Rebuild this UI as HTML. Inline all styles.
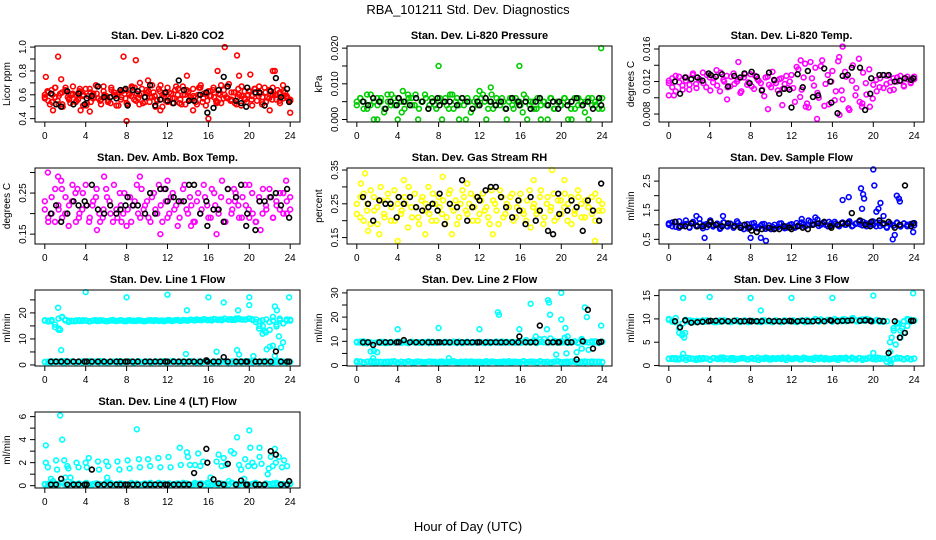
<!DOCTYPE html>
<html><head><meta charset="utf-8"><style>
html,body{margin:0;padding:0;background:#fff}
svg{display:block;font-family:"Liberation Sans",Arial,sans-serif}
</style></head><body>
<svg id="chart" width="936" height="540" viewBox="0 0 936 540" xmlns="http://www.w3.org/2000/svg">
<rect width="936" height="540" fill="#fff"/>
<text x="468" y="14" text-anchor="middle" font-size="13">RBA_101211  Std. Dev. Diagnostics</text>
<text x="468" y="531" text-anchor="middle" font-size="13">Hour of Day (UTC)</text>
</svg>
<script>
const blackHours=[0.6,1.1,1.6,2.2,2.8,3.3,3.9,4.1,4.6,5.2,5.8,6.4,7.0,7.4,7.9,8.1,8.6,9.1,9.8,10.3,10.8,11.3,11.8,12.0,12.6,13.1,13.6,14.1,14.6,15.2,15.8,15.9,16.5,17.0,17.5,17.9,18.7,19.2,19.7,19.8,20.6,21.0,21.5,22.1,22.6,23.1,23.7,23.9];
const xTicks=[0,4,8,12,16,20,24];

const co2Main=[0.57,0.63,0.52,0.60,0.66,0.55,0.61,0.50,0.64,0.58,0.53,0.67,0.60,0.56,0.62,0.51,0.65,0.59,0.54,0.61,0.68,0.57,0.52,0.63,0.59,0.55,0.66,0.60,0.51,0.62,0.58,0.64,0.53,0.60,0.67,0.56,0.61,0.52,0.65,0.58,0.62,0.54,0.68,0.59,0.55,0.63,0.50,0.61,0.66,0.57,0.53,0.64,0.60,0.56,0.67,0.52,0.62,0.58,0.65,0.54,0.60,0.68,0.57,0.51,0.63,0.59,0.66,0.55,0.61,0.53,0.64,0.58,0.69,0.56,0.62,0.52,0.60,0.67,0.57,0.54,0.63,0.59,0.65,0.55,0.61,0.52,0.66,0.58,0.63,0.56,0.60,0.64,0.53,0.59,0.62,0.57,0.55];
const co2B=[0.60,0.55,0.64,0.58,0.52,0.62,0.66,0.56,0.60,0.54,0.63,0.59,0.51,0.65,0.57,0.61,0.55,0.67,0.58,0.53,0.62,0.60,0.56,0.64,0.52,0.59,0.66,0.57,0.61,0.54,0.63,0.58,0.50,0.65,0.60,0.55,0.62,0.57,0.67,0.53,0.60,0.64,0.56,0.59,0.52,0.66,0.61,0.55,0.63,0.58,0.54,0.68,0.60,0.57,0.62,0.53,0.65,0.59,0.56,0.63,0.51,0.61,0.67,0.58,0.54,0.64,0.60,0.56,0.62,0.57,0.59,0.55];
const co2C=[0.58,0.62,0.54,0.66,0.59,0.52,0.63,0.57,0.61,0.55,0.65,0.60,0.53,0.62,0.58,0.67,0.56,0.60,0.54,0.64,0.59,0.51,0.63,0.57,0.61,0.66,0.55,0.60,0.53,0.64,0.58,0.62,0.56,0.68,0.59,0.54,0.61,0.57,0.65,0.52,0.60,0.63,0.56,0.58,0.66,0.54,0.61,0.59,0.64,0.53,0.60,0.57,0.67,0.55,0.62,0.58,0.51,0.63,0.60,0.56,0.65,0.59,0.54,0.62,0.57,0.66,0.60,0.55,0.63,0.58,0.56];
const co2OutX=[0.1,1.3,1.6,0.8,4.4,7.7,8.9,8.0,13.9,16.0,16.9,17.6,18.8,19.0,20.1,22.3,22.5,23.3,24.0,11.3,14.5,9.3,10.1,3.5,22.0];
const co2OutY=[0.75,0.92,0.73,0.47,0.46,0.92,0.89,0.38,0.76,0.40,0.80,1.00,0.93,0.76,0.77,0.80,0.80,0.68,0.45,0.47,0.47,0.70,0.72,0.47,0.47];
const co2Black=[0.61,0.52,0.50,0.63,0.52,0.61,0.52,0.57,0.59,0.67,0.58,0.58,0.57,0.64,0.65,0.51,0.64,0.63,0.58,0.68,0.51,0.56,0.62,0.55,0.53,0.72,0.64,0.55,0.55,0.60,0.62,0.45,0.49,0.64,0.75,0.67,0.55,0.53,0.50,0.66,0.62,0.62,0.51,0.63,0.74,0.58,0.65,0.54];

const presMain=[0.005,0.006,0.003,0.007,0.004,0.000,0.006,0.005,0.002,0.007,0.004,0.006,0.000,0.005,0.003,0.007,0.006,0.004,0.000,0.005,0.007,0.003,0.006,0.004,0.005,0.000,0.006,0.003,0.007,0.005,0.004,0.006,0.000,0.005,0.003,0.006,0.004,0.007,0.000,0.005,0.003,0.006,0.004,0.005,0.000,0.006,0.003,0.005,0.004,0.007,0.000,0.005,0.003,0.006,0.004,0.005,0.000,0.006,0.003,0.005,0.004,0.006,0.000,0.005,0.003,0.006,0.004,0.005,0.000,0.006,0.004,0.005,0.003];
const presB=[0.004,0.006,0.005,0.003,0.007,0.005,0.004,0.006,0.003,0.005,0.007,0.004,0.006,0.002,0.005,0.006,0.004,0.007,0.003,0.005,0.006,0.004,0.005,0.003,0.006,0.005,0.004,0.007,0.003,0.006,0.005,0.004,0.006,0.002,0.005,0.004,0.006,0.005,0.003,0.007,0.004,0.005,0.006,0.003,0.005,0.004,0.006,0.005,0.002,0.006,0.004,0.005,0.003,0.006,0.005,0.004,0.006,0.003,0.005,0.004,0.006,0.005,0.003,0.006,0.004,0.005,0.002,0.006,0.004,0.005,0.003,0.006];
const presOutX=[8.0,15.9,23.9,12.0,13.1,4.5,2.0,10.0,18.0,21.0];
const presOutY=[0.015,0.015,0.020,0.008,0.009,0.008,0.000,0.000,0.000,0.000];
const presBlack=[0.005,0.004,0.006,0.005,0.003,0.005,0.004,0.006,0.005,0.004,0.006,0.005,0.003,0.005,0.006,0.004,0.005,0.005,0.004,0.006,0.005,0.003,0.005,0.004,0.006,0.005,0.004,0.005,0.003,0.006,0.005,0.004,0.005,0.003,0.005,0.006,0.004,0.005,0.003,0.005,0.004,0.005,0.006,0.004,0.005,0.003,0.006,0.004];

const tempMain=[0.0118,0.0124,0.0108,0.0126,0.0115,0.0121,0.0110,0.0128,0.0117,0.0123,0.0131,0.0113,0.0125,0.0119,0.0134,0.0108,0.0122,0.0127,0.0114,0.0130,0.0120,0.0106,0.0125,0.0116,0.0129,0.0111,0.0123,0.0118,0.0102,0.0126,0.0113,0.0121,0.0109,0.0124,0.0117,0.0112,0.0128,0.0095,0.0135,0.0110,0.0142,0.0088,0.0124,0.0137,0.0100,0.0146,0.0117,0.0092,0.0133,0.0108,0.0150,0.0098,0.0126,0.0085,0.0140,0.0112,0.0095,0.0131,0.0104,0.0089,0.0116,0.0108,0.0124,0.0112,0.0127,0.0119,0.0110,0.0125,0.0121,0.0114,0.0126,0.0118,0.0123];
const tempB=[0.0121,0.0113,0.0127,0.0119,0.0110,0.0125,0.0116,0.0130,0.0112,0.0122,0.0118,0.0128,0.0109,0.0124,0.0115,0.0131,0.0120,0.0113,0.0126,0.0117,0.0123,0.0108,0.0129,0.0119,0.0114,0.0127,0.0121,0.0110,0.0125,0.0116,0.0132,0.0118,0.0123,0.0111,0.0127,0.0120,0.0112,0.0138,0.0101,0.0125,0.0093,0.0144,0.0115,0.0106,0.0139,0.0090,0.0128,0.0120,0.0097,0.0145,0.0109,0.0132,0.0087,0.0121,0.0103,0.0148,0.0093,0.0118,0.0135,0.0099,0.0122,0.0113,0.0128,0.0117,0.0109,0.0124,0.0120,0.0127,0.0115,0.0123,0.0119,0.0126];
const tempOutX=[0.0,0.5,6.8,12.9,17.0,14.5,16.7,5.7,9.7,11.1,13.4,18.9];
const tempOutY=[0.0103,0.0103,0.0144,0.0146,0.0163,0.0074,0.0079,0.0098,0.0086,0.0091,0.0089,0.0089];
const tempBlack=[0.0120,0.0105,0.0125,0.0123,0.0125,0.0121,0.0130,0.0128,0.0126,0.0129,0.0114,0.0127,0.0125,0.0130,0.0118,0.0132,0.0126,0.0109,0.0131,0.0122,0.0105,0.0111,0.0110,0.0088,0.0129,0.0113,0.0133,0.0101,0.0103,0.0136,0.0120,0.0094,0.0081,0.0127,0.0128,0.0137,0.0137,0.0085,0.0105,0.0124,0.0128,0.0128,0.0128,0.0120,0.0121,0.0124,0.0122,0.0124];

const ambMain=[0.21,0.19,0.24,0.18,0.22,0.26,0.20,0.17,0.23,0.25,0.19,0.21,0.27,0.18,0.22,0.24,0.20,0.19,0.26,0.23,0.18,0.21,0.25,0.20,0.17,0.24,0.22,0.27,0.19,0.21,0.23,0.18,0.25,0.20,0.22,0.26,0.19,0.24,0.21,0.17,0.23,0.27,0.20,0.22,0.18,0.25,0.21,0.24,0.19,0.26,0.22,0.20,0.28,0.18,0.23,0.21,0.25,0.19,0.24,0.22,0.27,0.20,0.18,0.23,0.26,0.21,0.24,0.19,0.22,0.25,0.20,0.23,0.21];
const ambB=[0.23,0.18,0.20,0.26,0.21,0.19,0.24,0.22,0.27,0.18,0.20,0.25,0.22,0.19,0.23,0.26,0.18,0.21,0.24,0.20,0.27,0.19,0.22,0.25,0.21,0.18,0.23,0.20,0.26,0.22,0.19,0.24,0.21,0.27,0.18,0.23,0.20,0.25,0.22,0.19,0.26,0.21,0.24,0.18,0.23,0.20,0.27,0.22,0.19,0.25,0.21,0.24,0.18,0.26,0.20,0.23,0.22,0.19,0.27,0.21,0.25,0.18,0.24,0.20,0.22,0.26,0.19,0.23,0.21,0.25,0.20,0.24];
const ambOutX=[0.3,1.3,5.8,9.3,12.0,11.3,16.8,5.1,21.1,14.3,1.6,23.6,3.2,7.5,18.5,20.0];
const ambOutY=[0.30,0.29,0.29,0.29,0.28,0.15,0.15,0.16,0.16,0.17,0.28,0.28,0.26,0.18,0.26,0.19];
const ambBlack=[0.20,0.22,0.18,0.20,0.23,0.22,0.23,0.22,0.27,0.21,0.20,0.22,0.20,0.21,0.22,0.24,0.22,0.22,0.20,0.25,0.20,0.26,0.26,0.23,0.24,0.23,0.23,0.27,0.27,0.20,0.23,0.17,0.21,0.21,0.18,0.26,0.24,0.27,0.17,0.20,0.16,0.23,0.23,0.24,0.25,0.22,0.26,0.19];

const rhMain=[0.25,0.21,0.28,0.23,0.19,0.27,0.24,0.30,0.22,0.26,0.20,0.29,0.25,0.22,0.27,0.18,0.24,0.28,0.21,0.26,0.23,0.30,0.20,0.25,0.27,0.22,0.19,0.28,0.24,0.26,0.21,0.29,0.23,0.25,0.20,0.27,0.22,0.28,0.24,0.19,0.26,0.23,0.29,0.21,0.25,0.27,0.20,0.24,0.28,0.22,0.26,0.18,0.25,0.23,0.29,0.21,0.27,0.24,0.20,0.26,0.22,0.28,0.25,0.19,0.23,0.27,0.21,0.26,0.24,0.22,0.28,0.23,0.25];
const rhB=[0.22,0.27,0.20,0.25,0.29,0.23,0.19,0.26,0.21,0.28,0.24,0.20,0.27,0.23,0.25,0.30,0.21,0.24,0.19,0.27,0.25,0.22,0.28,0.20,0.24,0.26,0.21,0.29,0.23,0.19,0.25,0.27,0.22,0.28,0.24,0.20,0.26,0.23,0.21,0.29,0.25,0.19,0.27,0.22,0.24,0.28,0.21,0.26,0.23,0.20,0.29,0.24,0.22,0.27,0.19,0.25,0.23,0.28,0.21,0.26,0.24,0.20,0.27,0.22,0.29,0.25,0.21,0.24,0.27,0.20,0.26,0.23];
const rhOutX=[0.4,0.8,4.0,2.2,4.6,8.4,10.8,13.3,17.3,19.1,20.3,23.3,6.7,9.3,1.1];
const rhOutY=[0.31,0.34,0.14,0.16,0.32,0.33,0.31,0.16,0.32,0.35,0.32,0.14,0.16,0.16,0.17];
const rhBlack=[0.27,0.25,0.20,0.26,0.25,0.25,0.21,0.27,0.25,0.27,0.24,0.23,0.24,0.25,0.23,0.28,0.19,0.25,0.24,0.32,0.20,0.24,0.27,0.26,0.29,0.30,0.30,0.27,0.24,0.21,0.26,0.23,0.19,0.27,0.20,0.23,0.17,0.16,0.28,0.22,0.23,0.26,0.24,0.17,0.26,0.23,0.20,0.31];

const flowMain=[1.05,0.95,1.10,0.90,1.00,1.15,0.92,1.05,0.98,1.20,0.88,1.02,1.10,0.94,1.00,0.86,1.08,0.96,1.04,0.90,1.12,0.98,0.85,1.02,0.93,1.06,0.88,0.97,1.03,0.90,0.85,1.00,0.92,1.05,0.88,0.96,1.02,0.90,0.98,1.08,0.94,1.15,1.00,1.25,0.96,1.05,1.00,1.10,0.98,1.04,0.95,1.08,1.00,1.12,0.97,1.05,1.02,1.10,0.95,1.06,1.00,1.08,0.96,1.04,0.90,1.02,0.98,1.06,0.94,1.05,1.00,1.03,0.98];
const flowB=[1.00,1.08,0.93,1.12,0.97,1.03,0.90,1.10,0.95,1.05,1.00,0.92,1.15,0.98,1.04,0.89,1.08,0.94,1.02,0.96,1.06,0.90,1.00,0.87,1.04,0.95,0.91,1.02,0.86,0.98,0.93,0.88,1.04,0.95,0.90,1.00,0.92,1.06,0.96,1.02,0.98,1.10,1.02,1.18,1.00,1.08,0.95,1.04,1.10,0.97,1.06,1.00,1.09,0.95,1.03,1.11,0.98,1.05,1.00,1.12,0.95,1.07,1.00,0.93,1.05,0.97,1.08,0.99,1.04,0.95,1.02,1.06];
const flowOutX=[17.0,17.6,18.8,18.9,19.0,19.1,20.0,20.1,20.3,20.5,20.7,21.0,22.3,22.5,22.6,21.9,22.1,3.5,8.0,9.5,9.0,2.7,5.3,13.0,23.9];
const flowOutY=[1.85,1.95,2.25,1.55,2.05,1.90,2.90,2.35,1.45,1.55,1.75,1.30,2.00,1.90,1.80,0.50,0.65,0.55,0.55,0.45,0.55,1.30,1.30,1.20,0.75];
const flowBlack=[1.10,0.95,0.95,1.05,0.95,0.95,1.00,1.10,1.00,0.95,1.05,0.95,0.90,1.00,0.90,0.80,0.75,0.85,0.90,0.85,0.85,0.95,0.90,0.85,0.95,0.90,0.85,1.00,1.05,1.10,0.95,0.90,1.00,1.05,1.05,1.40,1.15,1.00,0.95,1.10,1.15,1.05,1.10,0.90,1.00,2.35,0.95,1.05];

const l1Upper=[17.2,17.0,16.8,14.5,17.8,18.3,17.1,16.5,17.0,16.8,17.2,16.9,17.1,16.7,17.0,17.2,16.9,17.1,16.8,17.0,17.3,16.9,17.1,17.0,16.8,17.2,17.0,16.9,17.1,16.8,17.0,17.2,16.9,17.1,17.0,16.8,17.2,17.0,17.1,17.3,16.9,17.2,17.0,17.4,17.1,17.3,17.2,17.5,17.3,17.1,17.6,17.4,17.2,17.7,17.5,17.3,17.8,17.6,17.4,17.5,17.8,17.3,17.5,16.8,15.0,17.5,13.5,17.0,14.8,17.2,16.0,17.5,17.0];
const l1UpperB=[17.0,16.7,17.3,15.5,13.5,18.5,17.4,17.0,16.8,17.1,16.9,17.2,17.0,16.8,17.1,16.9,17.2,17.0,16.8,17.1,17.0,16.9,17.2,16.8,17.1,17.0,16.9,17.2,17.0,16.8,17.1,17.0,17.2,16.9,17.1,17.0,17.3,16.9,17.2,17.0,17.3,17.1,17.4,17.2,17.5,17.3,17.6,17.2,17.4,17.7,17.3,17.5,17.8,17.4,17.6,17.3,17.9,17.5,17.4,17.8,17.6,16.5,14.0,17.2,12.5,16.5,18.5,15.5,17.8,16.0,17.0,17.4];
const l1Lower=[1.2,1.0,1.4,1.1,1.3,1.5,1.0,1.2,1.4,1.1,1.3,1.0,1.2,1.5,1.1,1.3,1.0,1.4,1.2,1.1,1.3,1.0,1.5,1.2,1.1,1.4,1.0,1.3,1.2,1.1,1.4,1.0,1.2,1.3,1.1,1.5,1.0,1.2,1.4,1.1,1.3,1.0,1.2,1.5,1.1,1.3,1.0,1.4,1.2,1.1,1.3,1.0,1.5,1.2,1.1,1.4,1.0,1.3,1.2,1.1,1.4,1.0,1.2,1.3,1.1,1.5,1.0,1.2,1.4,1.1,1.3,1.0,1.2];
const l1LowerB=[1.1,1.3,1.0,1.4,1.2,1.0,1.5,1.1,1.3,1.0,1.2,1.4,1.1,1.0,1.3,1.2,1.5,1.1,1.0,1.3,1.2,1.4,1.0,1.1,1.3,1.2,1.0,1.5,1.1,1.3,1.2,1.0,1.4,1.1,1.3,1.0,1.2,1.5,1.1,1.3,1.0,1.2,1.4,1.1,1.0,1.3,1.2,1.5,1.1,1.0,1.3,1.2,1.4,1.0,1.1,1.3,1.2,1.0,1.5,1.1,1.3,1.2,1.0,1.4,1.1,1.3,1.0,1.2,1.5,1.1,1.3,1.2];
const l1OutX=[1.3,1.6,4.0,8.0,12.0,13.9,13.8,16.0,17.5,16.8,18.8,18.9,19.0,20.0,20.0,20.4,21.3,21.5,21.7,22.0,22.3,22.5,22.7,22.9,23.1,23.3,23.9,21.0,22.5,1.4,1.5];
const l1OutY=[22,5.7,28,26,27,21,4.2,26,24,5.1,5.7,21,4.0,26,23,3.4,12,13,6,7,7.4,22.5,21,11,6.7,8.7,26,15,3.5,14,13.5];
const l1Black=[1.3,1.3,1.3,1.3,1.3,1.3,1.3,1.3,1.3,1.3,1.3,1.3,1.3,1.3,1.3,1.3,1.3,1.3,1.3,1.3,1.3,1.3,1.3,1.3,1.3,1.3,1.3,1.3,1.3,1.3,1.8,1.3,1.3,1.3,3.0,1.3,1.3,1.3,1.3,1.3,1.3,1.3,1.3,1.3,5.2,1.3,1.3,1.3];

const l2Upper=[9.8,9.5,10.0,9.2,9.6,6.0,5.5,9.4,9.8,9.3,9.7,9.5,9.9,9.4,9.6,9.3,9.8,9.5,9.7,9.4,9.6,9.9,9.5,9.3,9.7,9.5,9.8,9.4,9.6,9.5,9.9,9.3,9.7,9.5,9.6,9.4,9.8,9.5,9.7,9.3,9.6,9.9,9.5,9.4,9.8,9.6,9.5,9.7,9.4,9.9,9.6,9.5,10.5,9.4,9.8,11.0,9.6,9.5,10.2,9.8,9.5,11.5,9.3,9.8,10.0,9.5,11.0,9.7,6.5,9.5,10.0,9.3,9.8];
const l2UpperB=[9.5,9.9,9.3,9.7,5.8,9.4,9.6,9.8,9.3,9.5,9.7,9.4,9.9,9.5,9.6,9.3,9.8,9.5,9.4,9.7,9.6,9.3,9.8,9.5,9.6,9.4,9.7,9.5,9.9,9.3,9.6,9.5,9.8,9.4,9.7,9.5,9.6,9.3,9.8,9.5,9.7,9.4,9.9,9.6,9.5,9.8,9.4,9.7,9.6,10.5,9.5,9.8,9.3,10.8,9.6,9.5,11.2,9.8,9.4,10.0,9.6,12.0,9.5,9.8,9.3,10.5,9.7,9.5,10.0,9.6,9.4,9.8];
const l2Lower=[1.8,1.5,1.2,1.6,1.4,1.7,1.3,1.5,1.1,1.6,1.4,1.8,1.2,1.5,1.3,1.6,1.4,1.2,1.7,1.5,1.3,1.6,1.4,1.5,1.2,1.7,1.3,1.5,1.6,1.4,1.2,1.5,1.7,1.3,1.6,1.4,1.5,1.2,1.8,1.4,1.6,1.3,1.5,1.7,1.4,1.2,1.6,1.5,1.3,1.8,1.4,1.6,1.5,1.2,1.7,1.4,1.5,1.3,1.6,1.8,1.4,1.5,1.2,1.7,1.5,1.4,1.6,1.3,1.5,1.7,1.4,1.6,1.3];
const l2LowerB=[1.4,1.7,1.3,1.5,1.8,1.2,1.6,1.4,1.5,1.3,1.7,1.5,1.2,1.6,1.4,1.8,1.3,1.5,1.6,1.2,1.4,1.7,1.5,1.3,1.6,1.4,1.2,1.5,1.8,1.3,1.6,1.4,1.5,1.7,1.2,1.5,1.4,1.6,1.3,1.7,1.5,1.4,1.2,1.6,1.8,1.3,1.5,1.4,1.7,1.2,1.6,1.5,1.3,1.8,1.4,1.6,1.2,1.5,1.7,1.4,1.3,1.6,1.5,1.8,1.2,1.4,1.7,1.5,1.3,1.6,1.4,1.5];
const l2OutX=[4.0,8.0,12.0,13.8,13.9,15.9,17.0,17.5,18.7,18.8,18.9,18.6,19.5,20.0,20.0,20.4,20.5,21.5,22.3,22.5,23.9,9.0,1.6,22.0];
const l2OutY=[15,15.5,15,22,21,15,25.5,12,27,26,21,15,4.5,30,19,15.5,5,5.5,24,20,16.5,3,3,7];
const l2Black=[9.6,9.6,8.5,9.6,9.6,9.6,9.6,9.6,10.5,9.6,9.6,9.6,9.6,9.6,9.6,9.6,9.6,9.6,9.6,9.6,9.6,9.6,9.6,9.6,9.6,9.6,9.6,9.6,9.6,9.6,9.6,12.0,9.6,9.6,9.6,16.5,9.6,9.6,9.6,9.6,9.6,9.6,2.5,10.0,23.0,7.0,9.6,9.8];

const l3Upper=[10.0,9.6,9.3,8.0,6.8,9.8,9.4,9.6,9.3,9.5,9.7,9.4,9.6,9.5,9.3,9.7,9.5,9.6,9.4,9.5,9.7,9.3,9.6,9.5,9.4,9.6,9.5,9.3,9.7,9.5,9.4,9.6,9.5,9.3,9.7,9.5,9.6,9.4,9.5,9.7,9.3,9.6,9.5,10.0,9.4,9.6,9.5,9.8,9.4,9.7,9.6,9.9,9.5,9.7,10.2,9.5,9.8,9.6,10.0,9.7,9.5,9.8,9.6,9.4,9.5,3.0,7.5,9.0,6.0,9.5,8.5,9.8,9.6];
const l3UpperB=[9.8,9.4,10.2,7.0,9.0,9.5,9.7,9.3,9.6,9.5,9.4,9.7,9.5,9.3,9.6,9.4,9.7,9.5,9.3,9.6,9.5,9.4,9.7,9.3,9.6,9.5,9.4,9.7,9.5,9.6,9.3,9.7,9.5,9.4,9.6,9.5,9.7,9.3,9.6,9.5,9.8,9.4,9.7,9.6,9.9,9.5,9.8,9.6,10.0,9.7,9.5,9.9,9.6,10.1,9.7,9.5,9.9,9.6,9.8,9.5,9.7,9.4,9.6,1.5,5.0,8.0,9.2,7.5,9.5,10.0,9.4,9.7];
const l3Lower=[1.5,1.4,1.6,1.3,1.5,1.7,1.4,1.5,1.2,1.6,1.4,1.5,1.3,1.6,1.5,1.4,1.7,1.5,1.3,1.6,1.4,1.5,1.6,1.3,1.5,1.4,1.7,1.5,1.4,1.6,1.3,1.5,1.6,1.4,1.5,1.7,1.4,1.6,1.5,1.3,1.6,1.4,1.5,1.7,1.4,1.5,1.6,1.3,1.5,1.4,1.6,1.5,1.7,1.4,1.5,1.3,1.6,1.5,1.4,1.6,1.5,1.7,1.4,1.5,1.6,1.0,1.4,1.5,1.6,1.4,1.5,1.3,1.5];
const l3LowerB=[1.4,1.6,1.3,1.5,1.7,1.2,1.6,1.4,1.5,1.3,1.6,1.5,1.2,1.6,1.4,1.7,1.3,1.5,1.6,1.2,1.4,1.6,1.5,1.3,1.6,1.4,1.2,1.5,1.7,1.3,1.6,1.4,1.5,1.7,1.2,1.5,1.4,1.6,1.3,1.7,1.5,1.4,1.2,1.6,1.7,1.3,1.5,1.4,1.6,1.2,1.6,1.5,1.3,1.7,1.4,1.6,1.2,1.5,1.7,1.4,1.3,1.6,1.5,0.8,1.2,1.4,1.7,1.5,1.3,1.6,1.4,1.5];
const l3OutX=[1.4,4.0,8.0,12.0,16.0,20.0,23.9,9.0,1.3,1.5,1.6,1.4,20.0,21.7,21.8,22.0,22.2,22.5,22.8,23.0,23.4];
const l3OutY=[14.5,14.7,14.5,14.5,14.5,15,15.5,11.8,6.5,6,7,2.5,2.7,0.5,6,8,4.5,9,8,7,9.8];
const l3Black=[9.5,8.2,9.7,9.2,9.3,9.4,9.5,9.6,9.6,9.5,9.5,9.6,9.5,9.5,9.6,9.5,9.5,9.5,9.6,9.5,9.5,9.5,9.6,9.5,9.5,9.6,9.5,9.5,9.6,9.5,9.7,9.6,9.5,9.6,9.6,9.7,9.6,9.7,9.6,9.5,9.6,9.5,2.7,9.5,6.0,7.0,9.6,9.6];

const l4Lower=[0.10,0.15,0.05,0.20,0.10,0.25,0.10,0.05,0.15,0.10,0.20,0.10,0.15,0.05,0.10,0.20,0.15,0.10,0.25,0.05,0.10,0.15,0.20,0.10,0.05,0.15,0.10,0.20,0.10,0.15,0.05,0.25,0.10,0.15,0.10,0.20,0.05,0.10,0.15,0.20,0.10,0.05,0.15,0.10,0.25,0.10,0.20,0.05,0.15,0.10,0.20,0.10,0.15,0.05,0.10,0.25,0.15,0.10,0.20,0.05,0.10,0.15,0.20,0.10,0.05,0.15,0.10,0.20,0.10,0.15,0.05,0.10,0.15];
const l4LowerB=[0.15,0.05,0.20,0.10,0.15,0.25,0.05,0.10,0.20,0.15,0.10,0.05,0.25,0.10,0.15,0.20,0.05,0.10,0.15,0.25,0.10,0.05,0.20,0.15,0.10,0.25,0.05,0.15,0.10,0.20,0.15,0.05,0.10,0.25,0.15,0.10,0.20,0.05,0.15,0.10,0.25,0.20,0.05,0.10,0.15,0.20,0.10,0.25,0.05,0.15,0.10,0.20,0.15,0.05,0.25,0.10,0.15,0.20,0.05,0.10,0.15,0.25,0.10,0.05,0.20,0.15,0.10,0.25,0.05,0.15,0.10,0.20];
const l4OutX=[0.1,0.1,0.3,0.6,1.1,1.2,1.5,1.7,1.9,2.0,2.2,2.3,2.5,3.1,3.3,4.0,4.1,4.3,5.2,5.3,6.0,6.1,6.2,7.1,7.3,8.1,8.3,9.0,9.2,9.3,10.1,10.3,11.1,11.3,12.1,12.3,13.2,13.3,13.9,14.0,14.2,14.7,15.0,15.2,15.5,16.8,17.0,17.3,17.5,17.7,18.2,18.5,18.8,19.0,19.2,19.6,19.9,20.0,20.1,20.3,20.5,21.0,21.0,21.2,21.8,21.9,22.1,22.3,22.5,22.6,22.9,23.2,23.4,23.7,0.8,16.2,18.0,19.5];
const l4OutY=[3.5,2.0,1.6,0.6,2.2,1.4,6.1,4.0,2.2,0.7,1.7,1.5,0.7,2.0,1.6,2.0,1.6,2.4,2.1,1.4,2.1,0.7,1.7,2.1,1.4,2.2,1.5,4.9,2.3,1.6,2.3,1.7,2.4,1.6,2.5,1.6,3.3,1.8,2.9,2.5,1.8,1.8,2.8,1.7,2.1,2.1,2.7,1.7,2.4,1.8,3.0,2.8,4.2,1.8,1.4,2.3,1.7,4.8,3.3,2.0,1.7,3.3,2.5,1.9,1.0,1.5,2.5,1.7,3.2,2.0,2.5,1.6,2.2,1.7,0.4,0.7,0.4,0.6];
const l4Black=[0.1,0.1,0.6,0.1,0.1,0.1,0.1,0.1,1.4,0.1,0.1,0.1,0.1,0.1,0.1,0.1,0.1,0.1,0.1,0.1,0.1,0.1,0.1,0.1,0.1,0.1,0.1,0.1,1.1,0.1,3.2,2.0,0.55,0.2,0.1,1.9,0.1,0.45,0.1,0.1,0.1,0.1,0.1,3.0,2.7,0.1,0.1,0.4];

const panels=[
 {name:'co2',title:'Stan. Dev. Li-820 CO2',ylab:'Licor ppm',col:0,row:0,lo:0.372,hi:1.009,ticks:[0.4,0.5,0.6,0.7,0.8,0.9,1.0],labels:['0.4','','0.6','','0.8','','1.0'],color:'#ff0000',main:[co2Main,co2B,co2C],ox:co2OutX,oy:co2OutY,black:co2Black},
 {name:'pressure',title:'Stan. Dev. Li-820 Pressure',ylab:'kPa',col:1,row:0,lo:-0.0007,hi:0.0206,ticks:[0,0.005,0.01,0.015,0.02],labels:['0.000','','0.010','','0.020'],color:'#00cd00',main:[presMain,presB],ox:presOutX,oy:presOutY,black:presBlack},
 {name:'temp',title:'Stan. Dev. Li-820 Temp.',ylab:'degrees C',col:2,row:0,lo:0.00702,hi:0.01637,ticks:[0.008,0.010,0.012,0.014,0.016],labels:['0.008','','0.012','','0.016'],color:'#ff00ff',main:[tempMain,tempB],ox:tempOutX,oy:tempOutY,black:tempBlack},
 {name:'amb-temp',title:'Stan. Dev. Amb. Box Temp.',ylab:'degrees C',col:0,row:1,lo:0.126,hi:0.311,ticks:[0.15,0.20,0.25,0.30],labels:['0.15','','0.25',''],color:'#ff00ff',main:[ambMain,ambB],ox:ambOutX,oy:ambOutY,black:ambBlack},
 {name:'rh',title:'Stan. Dev. Gas Stream RH',ylab:'percent',col:1,row:1,lo:0.131,hi:0.356,ticks:[0.15,0.20,0.25,0.30,0.35],labels:['0.15','','0.25','','0.35'],color:'#ffff00',main:[rhMain,rhB],ox:rhOutX,oy:rhOutY,black:rhBlack},
 {name:'sample-flow',title:'Stan. Dev. Sample Flow',ylab:'ml/min',col:2,row:1,lo:0.34,hi:2.95,ticks:[0.5,1.0,1.5,2.0,2.5],labels:['0.5','','1.5','','2.5'],color:'#0000ff',main:[flowMain,flowB],ox:flowOutX,oy:flowOutY,black:flowBlack},
 {name:'line1',title:'Stan. Dev. Line 1 Flow',ylab:'ml/min',col:0,row:2,lo:-0.4,hi:28.8,ticks:[0,5,10,15,20,25],labels:['0','','10','','20',''],color:'#00ffff',main:[l1Upper,l1UpperB,l1Lower,l1LowerB],ox:l1OutX,oy:l1OutY,black:l1Black},
 {name:'line2',title:'Stan. Dev. Line 2 Flow',ylab:'ml/min',col:1,row:2,lo:-0.2,hi:31.2,ticks:[0,5,10,15,20,25,30],labels:['0','','10','','20','','30'],color:'#00ffff',main:[l2Upper,l2UpperB,l2Lower,l2LowerB],ox:l2OutX,oy:l2OutY,black:l2Black},
 {name:'line3',title:'Stan. Dev. Line 3 Flow',ylab:'ml/min',col:2,row:2,lo:-0.1,hi:16.2,ticks:[0,5,10,15],labels:['0','5','10','15'],color:'#00ffff',main:[l3Upper,l3UpperB,l3Lower,l3LowerB],ox:l3OutX,oy:l3OutY,black:l3Black},
 {name:'line4',title:'Stan. Dev. Line 4 (LT) Flow',ylab:'ml/min',col:0,row:3,lo:-0.2,hi:6.4,ticks:[0,1,2,3,4,5,6],labels:['0','','2','','4','','6'],color:'#00ffff',main:[l4Lower,l4LowerB],ox:l4OutX,oy:l4OutY,black:l4Black}
];

const NS='http://www.w3.org/2000/svg';
const svg=document.getElementById('chart');
const colLeft=[35,347,659], rowTop=[46,168,290,412], W=265, H=76, XLO=-0.96, XHI=24.96;
function mk(tag,attrs,parent){const e=document.createElementNS(NS,tag);for(const k in attrs)e.setAttribute(k,attrs[k]);parent.appendChild(e);return e;}

panels.forEach(p=>{
  const L=colLeft[p.col], T=rowTop[p.row], B=T+H, R=L+W;
  const xs=v=>L+(v-XLO)/(XHI-XLO)*W;
  const ys=v=>B-(v-p.lo)/(p.hi-p.lo)*H;
  const g=mk('g',{},svg);
  
  
  const t=mk('text',{x:(L+R)/2,y:T-7,'text-anchor':'middle','font-size':'11','font-weight':'bold'},g);
  t.textContent=p.title;
  
  
  const yl=mk('text',{x:L-25,y:(T+B)/2,'text-anchor':'middle','font-size':'10',transform:`rotate(-90 ${L-25} ${(T+B)/2})`},g);
  yl.textContent=p.ylab;
  
  
  const pts=mk('g',{fill:'none','stroke-width':'1.6'},g);
  
  
  p.main.forEach(arr=>{
    arr.forEach((v,i)=>{
      const c=mk('circle',{cx:xs(i*24/(arr.length-1)),cy:ys(v),r:2.4,stroke:p.color},pts);
      
      
    });
  });
  p.ox.forEach((x,i)=>{
    const c=mk('circle',{cx:xs(x),cy:ys(p.oy[i]),r:2.4,stroke:p.color},pts);
    
    
  });
  p.black.forEach((v,i)=>{
    const c=mk('circle',{cx:xs(blackHours[i]),cy:ys(v),r:2.4,stroke:'#000'},pts);
    
    
  });
  const box=mk('rect',{x:L,y:T,width:W,height:H,fill:'none',stroke:'#000','stroke-width':'1'},g);
  
  
  xTicks.forEach(v=>{
    mk('line',{x1:xs(v),x2:xs(v),y1:B,y2:B+5,stroke:'#000'},g);
    const tx=mk('text',{x:xs(v),y:B+17,'text-anchor':'middle','font-size':'10'},g);
    tx.textContent=v;
    
    
  });
  p.ticks.forEach((v,i)=>{
    mk('line',{x1:L-5,x2:L,y1:ys(v),y2:ys(v),stroke:'#000'},g);
    if(p.labels[i]){
      const tx=mk('text',{x:L-9,y:ys(v),'text-anchor':'middle','font-size':'10',transform:`rotate(-90 ${L-9} ${ys(v)})`},g);
      tx.textContent=p.labels[i];
      
      
    }
  });
});
</script>
</body></html>
